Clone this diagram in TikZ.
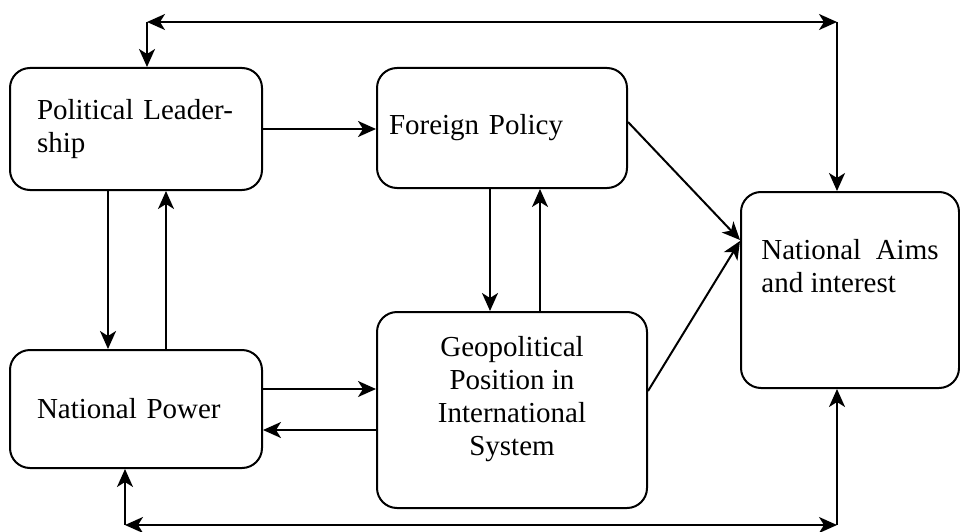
\documentclass[tikz,border=0pt]{standalone}
\usepackage{fontspec}
\setmainfont{Liberation Serif}
\usepackage{pgf,tikz}
\usetikzlibrary{arrows.meta, positioning}
\tikzstyle{bloque} = [draw, line width=2pt, rectangle, rounded corners=20pt, inner sep=0pt]
\tikzstyle{flecha} = [line width=2pt, -{Stealth[length=18pt, width=16pt, inset=5pt]}]
\tikzstyle{doble} = [line width=2pt, {Stealth[length=18pt, width=16pt, inset=5pt]}-{Stealth[length=18pt, width=16pt, inset=5pt]}]

\begin{document}
\begin{tikzpicture}[x=1pt, y=-1pt, font=\fontsize{29}{33}\selectfont]
	\useasboundingbox (0,0) rectangle (960,532);
	\node [bloque, minimum width=252pt, minimum height=122pt, text width=198pt, align=left] (lider) at (136,129) {Political Leader-\\ship};
	\node [bloque, minimum width=250pt, minimum height=120pt, text width=226pt, align=left] (politica) at (502,128) {Foreign Policy};
	\node [bloque, minimum width=218pt, minimum height=196pt, align=left, text depth=48pt] (metas) at (850,290) {National\ \ Aims\\and interest};
	\node [bloque, minimum width=252pt, minimum height=118pt, text width=198pt, align=left] (poder) at (136,409) {National Power};
	\node [bloque, minimum width=270pt, minimum height=196pt, align=center, text depth=28pt] (geo) at (512,410) {Geopolitical\\Position in\\International\\System};
	\coordinate (arriba1) at (147,22);
	\coordinate (arriba2) at (837,22);
	\coordinate (abajo1) at (125,525);
	\coordinate (abajo2) at (837,525);
	\draw [flecha] (lider.east) -- (lider.east -| politica.west);
	\draw [flecha] ([xshift=-28pt]lider.south) -- ([xshift=-28pt]lider.south |- poder.north);
	\draw [flecha] ([xshift=30pt]poder.north) -- ([xshift=30pt]poder.north |- lider.south);
	\draw [flecha] ([xshift=-12pt]politica.south) -- ([xshift=-12pt]politica.south |- geo.north);
	\draw [flecha] ([xshift=28pt]geo.north) -- ([xshift=28pt]geo.north |- politica.south);
	\draw [flecha] ([yshift=20pt]poder.east) -- ([yshift=20pt]poder.east -| geo.west);
	\draw [flecha] ([yshift=-20pt]geo.west) -- ([yshift=-20pt]geo.west -| poder.east);
	\draw [flecha] ([yshift=6pt]politica.east) -- ([yshift=50pt]metas.west);
	\draw [flecha] ([yshift=19pt]geo.east) -- ([yshift=49pt]metas.west);
	\draw [doble] (arriba1) -- (arriba2);
	\draw [flecha] (arriba1) -- (arriba1 |- lider.north);
	\draw [flecha] (arriba2) -- (arriba2 |- metas.north);
	\draw [doble] (abajo1) -- (abajo2);
	\draw [flecha] (abajo1) -- (abajo1 |- poder.south);
	\draw [flecha] (abajo2) -- (abajo2 |- metas.south);
\end{tikzpicture}
\end{document}
